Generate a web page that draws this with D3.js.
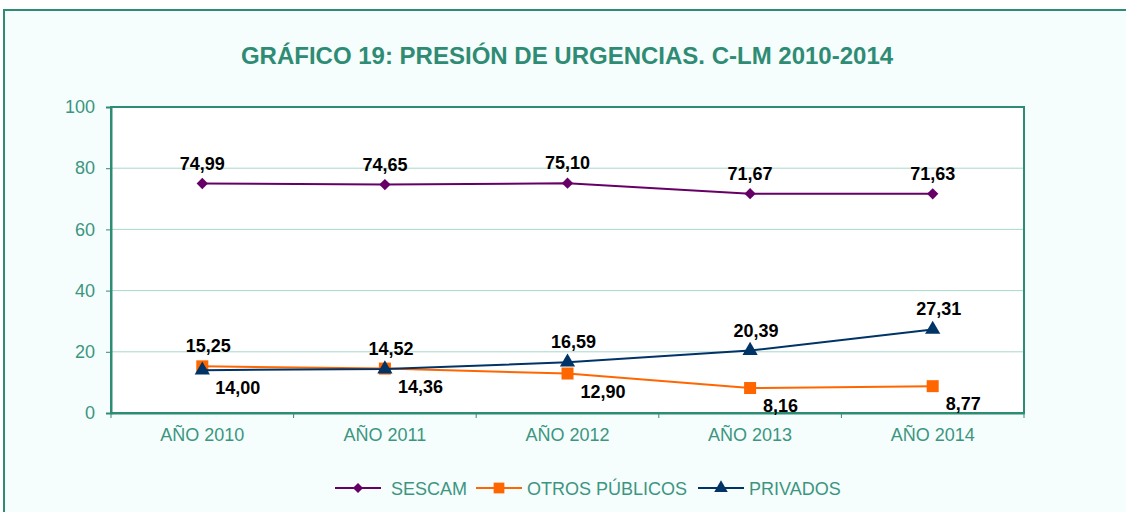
<!DOCTYPE html>
<html>
<head>
<meta charset="utf-8">
<script src="https://cdn.jsdelivr.net/npm/d3@7"></script>
<style>
  body { margin: 0; background: #fff; }
  svg { display: block; font-family: "Liberation Sans", Arial, sans-serif; }
</style>
</head>
<body>
<div id="chart"></div>
<script>
// data
var years = ["AÑO 2010", "AÑO 2011", "AÑO 2012", "AÑO 2013", "AÑO 2014"];
var sescam = [74.99, 74.65, 75.10, 71.67, 71.63];
var otrosPublicos = [15.25, 14.52, 12.90, 8.16, 8.77];
var privados = [14.00, 14.36, 16.59, 20.39, 27.31];
var yTicks = [0, 20, 40, 60, 80, 100];
var seriesNames = ["SESCAM", "OTROS PÚBLICOS", "PRIVADOS"];

var width = 1126, height = 512;
var teal = "#2f8c74", tealText = "#3b9680";
var colors = ["#660066", "#ff6600", "#003366"];
// diamond is a square turned 45 degrees (Excel style)
var symbols = [d3.symbolSquare, d3.symbolSquare, d3.symbolTriangle];
var symSize = [64, 144, 100];
var symRot = [45, 0, 0];

var svg = d3.select("#chart").append("svg")
  .attr("width", width)
  .attr("height", height);

// outer frame
svg.append("rect")
  .attr("x", 4).attr("y", 10)
  .attr("width", width + 20).attr("height", height + 20)
  .attr("fill", "#f6fdfd")
  .attr("stroke", teal).attr("stroke-width", 2);

svg.append("text")
  .attr("x", 567).attr("y", 64)
  .attr("text-anchor", "middle")
  .attr("font-size", 24).attr("font-weight", "bold")
  .attr("fill", teal)
  .text("GRÁFICO 19: PRESIÓN DE URGENCIAS. C-LM 2010-2014");

var plotL = 111, plotR = 1024, plotT = 107, plotB = 413;

var x = d3.scaleBand().domain(years).range([plotL, plotR]);
var y = d3.scaleLinear().domain([0, 100]).range([plotB, plotT]);

svg.append("rect")
  .attr("x", plotL).attr("y", plotT)
  .attr("width", plotR - plotL).attr("height", plotB - plotT)
  .attr("fill", "#fff");

// gridlines
svg.append("g")
  .selectAll("line")
  .data(yTicks.filter(function(d) { return d > 0 && d < 100; }))
  .enter().append("line")
  .attr("x1", plotL).attr("x2", plotR)
  .attr("y1", function(d) { return y(d); })
  .attr("y2", function(d) { return y(d); })
  .attr("stroke", "#a9d8cc").attr("stroke-width", 1);

svg.append("rect")
  .attr("x", plotL).attr("y", plotT)
  .attr("width", plotR - plotL).attr("height", plotB - plotT)
  .attr("fill", "none")
  .attr("stroke", teal).attr("stroke-width", 2);

// y axis
var yAxis = svg.append("g")
  .attr("transform", "translate(" + plotL + ",0)")
  .call(d3.axisLeft(y).tickValues(yTicks).tickSize(5).tickPadding(11));
yAxis.select(".domain").attr("stroke", teal).attr("stroke-width", 2);
yAxis.selectAll(".tick line").attr("stroke", teal);
yAxis.selectAll(".tick text")
  .attr("fill", tealText).attr("font-size", 18)
  .attr("font-family", "Liberation Sans, Arial, sans-serif");

// x axis: ticks at band edges
var xAxis = svg.append("g")
  .attr("transform", "translate(0," + plotB + ")")
  .call(d3.axisBottom(x).tickSize(0).tickPadding(15));
xAxis.select(".domain").attr("stroke", teal).attr("stroke-width", 2);
xAxis.selectAll(".tick text")
  .attr("fill", tealText).attr("font-size", 18)
  .attr("font-family", "Liberation Sans, Arial, sans-serif");
xAxis.selectAll(".edge")
  .data(d3.range(years.length + 1))
  .enter().append("line")
  .attr("class", "edge")
  .attr("x1", function(i) { return plotL + i * x.step(); })
  .attr("x2", function(i) { return plotL + i * x.step(); })
  .attr("y1", 0).attr("y2", 5)
  .attr("stroke", teal);

var allSeries = [sescam, otrosPublicos, privados];
var cx = function(i) { return x(years[i]) + x.bandwidth() / 2; };

var line = d3.line()
  .x(function(d, i) { return cx(i); })
  .y(function(d) { return y(d); });

allSeries.forEach(function(vals, s) {
  svg.append("path")
    .datum(vals)
    .attr("d", line)
    .attr("fill", "none")
    .attr("stroke", colors[s]).attr("stroke-width", 2);

  svg.append("g").selectAll("path")
    .data(vals)
    .enter().append("path")
    .attr("d", d3.symbol().type(symbols[s]).size(symSize[s]))
    .attr("transform", function(d, i) {
      return "translate(" + cx(i) + "," + y(d) + ") rotate(" + symRot[s] + ")";
    })
    .attr("fill", colors[s]);
});

// labels: SESCAM above; of the two lower series the higher one goes above, the other below-right
var fmt = function(v) { return v.toFixed(2).replace(".", ","); };
allSeries.forEach(function(vals, s) {
  svg.append("g").selectAll("text")
    .data(vals)
    .enter().append("text")
    .attr("font-size", 18).attr("font-weight", "bold").attr("fill", "#000")
    .each(function(d, i) {
      var above = s === 0 || d >= Math.max(otrosPublicos[i], privados[i]);
      var t = d3.select(this).text(fmt(d));
      if (above) {
        t.attr("x", cx(i) + (s === 0 ? 0 : 6)).attr("y", y(d) - 14).attr("text-anchor", "middle");
      } else {
        t.attr("x", cx(i) + 13).attr("y", y(d) + 24).attr("text-anchor", "start");
      }
    });
});

// legend
var legendX = [335, 476, 698];
var legend = svg.append("g").selectAll("g")
  .data(seriesNames)
  .enter().append("g")
  .attr("transform", function(d, i) { return "translate(" + legendX[i] + ",488)"; });
legend.append("line")
  .attr("x1", 0).attr("x2", 46)
  .attr("stroke", function(d, i) { return colors[i]; })
  .attr("stroke-width", 2);
legend.append("path")
  .attr("d", function(d, i) { return d3.symbol().type(symbols[i]).size(symSize[i] * 0.8)(); })
  .attr("transform", function(d, i) { return "translate(23,0) rotate(" + symRot[i] + ")"; })
  .attr("fill", function(d, i) { return colors[i]; });
legend.append("text")
  .attr("x", function(d, i) { return i === 0 ? 56 : 51; })
  .attr("y", 7)
  .attr("font-size", 18).attr("fill", tealText)
  .text(function(d) { return d; });
</script>
</body>
</html>
